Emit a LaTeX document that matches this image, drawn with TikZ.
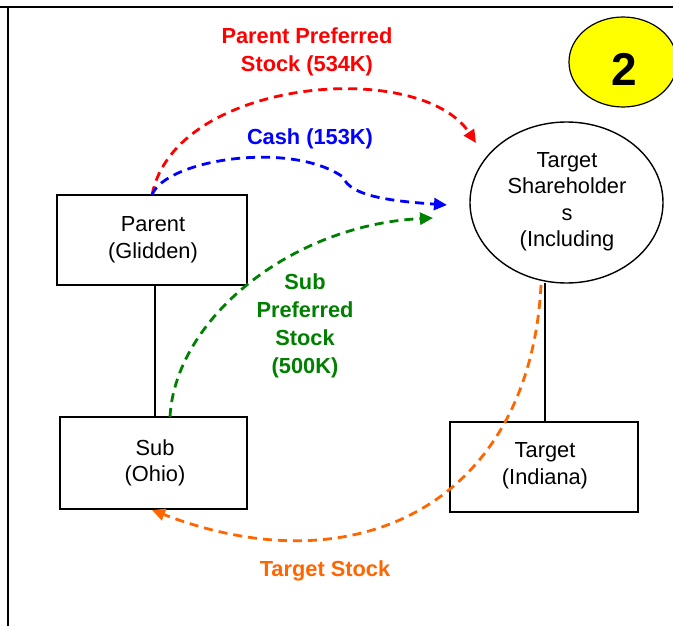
\documentclass[tikz,border=0pt]{standalone}
\usepackage{fontspec}
\setmainfont{Liberation Sans}
\usetikzlibrary{arrows.meta,shapes.geometric}
\definecolor{cred}{RGB}{255,0,0}
\definecolor{cblue}{RGB}{0,0,255}
\definecolor{cgreen}{RGB}{0,128,0}
\definecolor{corange}{RGB}{255,102,0}
\definecolor{cyellow}{RGB}{255,255,0}
\begin{document}
\begin{tikzpicture}[x=1pt,y=-1pt,
  boxtxt/.style={font=\fontsize{21.8}{26.5}\selectfont,align=center,inner sep=0pt},
  entity/.style={draw=black,line width=1.4pt,fill=white},
  flow/.style={dashed,dash pattern=on 9pt off 6pt,line width=2.8pt,-{Triangle[length=13pt,width=12pt]}},
  lbl/.style={font=\fontsize{21.8}{27.8}\selectfont\bfseries,align=center,inner sep=0pt},
  link/.style={line width=1.4pt}]
\useasboundingbox (0,0) rectangle (673,626);
\clip (0,0) rectangle (673,626);
% frame
\draw[line width=2.6pt] (0,7) -- (673,7);
\draw[line width=2.6pt] (8,7) -- (8,626);
% badge
\node[draw=black,line width=1.2pt,fill=cyellow,ellipse,minimum width=108pt,minimum height=90pt,inner sep=0pt] (badge) at (623,62) {};
\node[font=\fontsize{46}{46}\selectfont\bfseries,inner sep=0pt] (two) at (624,69) {2};
% links
\coordinate (plink) at (155,286);
\coordinate (slink) at (155,417);
\draw[link] (plink) -- (slink);
\coordinate (elink) at (545,283);
\coordinate (tlink) at (545,422);
\draw[link] (elink) -- (tlink);
% entities
\node[entity,minimum width=190pt,minimum height=90pt,inner sep=0pt] (parent) at (152,240) {};
\node[boxtxt] (parentt) at (153,240) {Parent\\(Glidden)};
\node[entity,minimum width=187pt,minimum height=92pt,inner sep=0pt] (sub) at (153.5,463) {};
\node[boxtxt] (subt) at (155,463) {Sub\\(Ohio)};
\node[entity,minimum width=188pt,minimum height=90pt,inner sep=0pt] (target) at (544,467) {};
\node[boxtxt] (targett) at (545,466) {Target\\(Indiana)};
\node[entity,ellipse,minimum width=193pt,minimum height=161pt,inner sep=0pt] (ts) at (566.5,202.5) {};
\node[boxtxt] (tst) at (567,202) {Target\\Shareholder\\s\\(Including};
% flows
\coordinate (redS) at (152,195);
\coordinate (redE) at (476,143);
\draw[flow,cred] (redS) .. controls (175,78) and (420,58) .. (redE);
\coordinate (blueS) at (152,195);
\coordinate (blueK) at (343,177);
\coordinate (blueE) at (447,205);
\draw[flow,cblue] (blueS) .. controls (165,160) and (290,140) .. (blueK) .. controls (350,196) and (390,201) .. (blueE);
\coordinate (greenS) at (170,417);
\coordinate (greenE) at (433,218);
\draw[flow,cgreen] (greenS) .. controls (175,320) and (290,225) .. (greenE);
\coordinate (orS) at (541,285);
\coordinate (orE) at (152,510);
\draw[flow,corange] (orS) .. controls (530,500) and (360,590) .. (orE);
% labels
\node[lbl,text=cred] (redl) at (307,52) {Parent Preferred\\Stock (534K)};
\node[lbl,text=cblue] (bluel) at (310,139) {Cash (153K)};
\node[lbl,text=cgreen] (greenl) at (305,326) {Sub\\Preferred\\Stock\\(500K)};
\node[lbl,text=corange] (orl) at (325,571) {Target Stock};
\end{tikzpicture}
\end{document}
